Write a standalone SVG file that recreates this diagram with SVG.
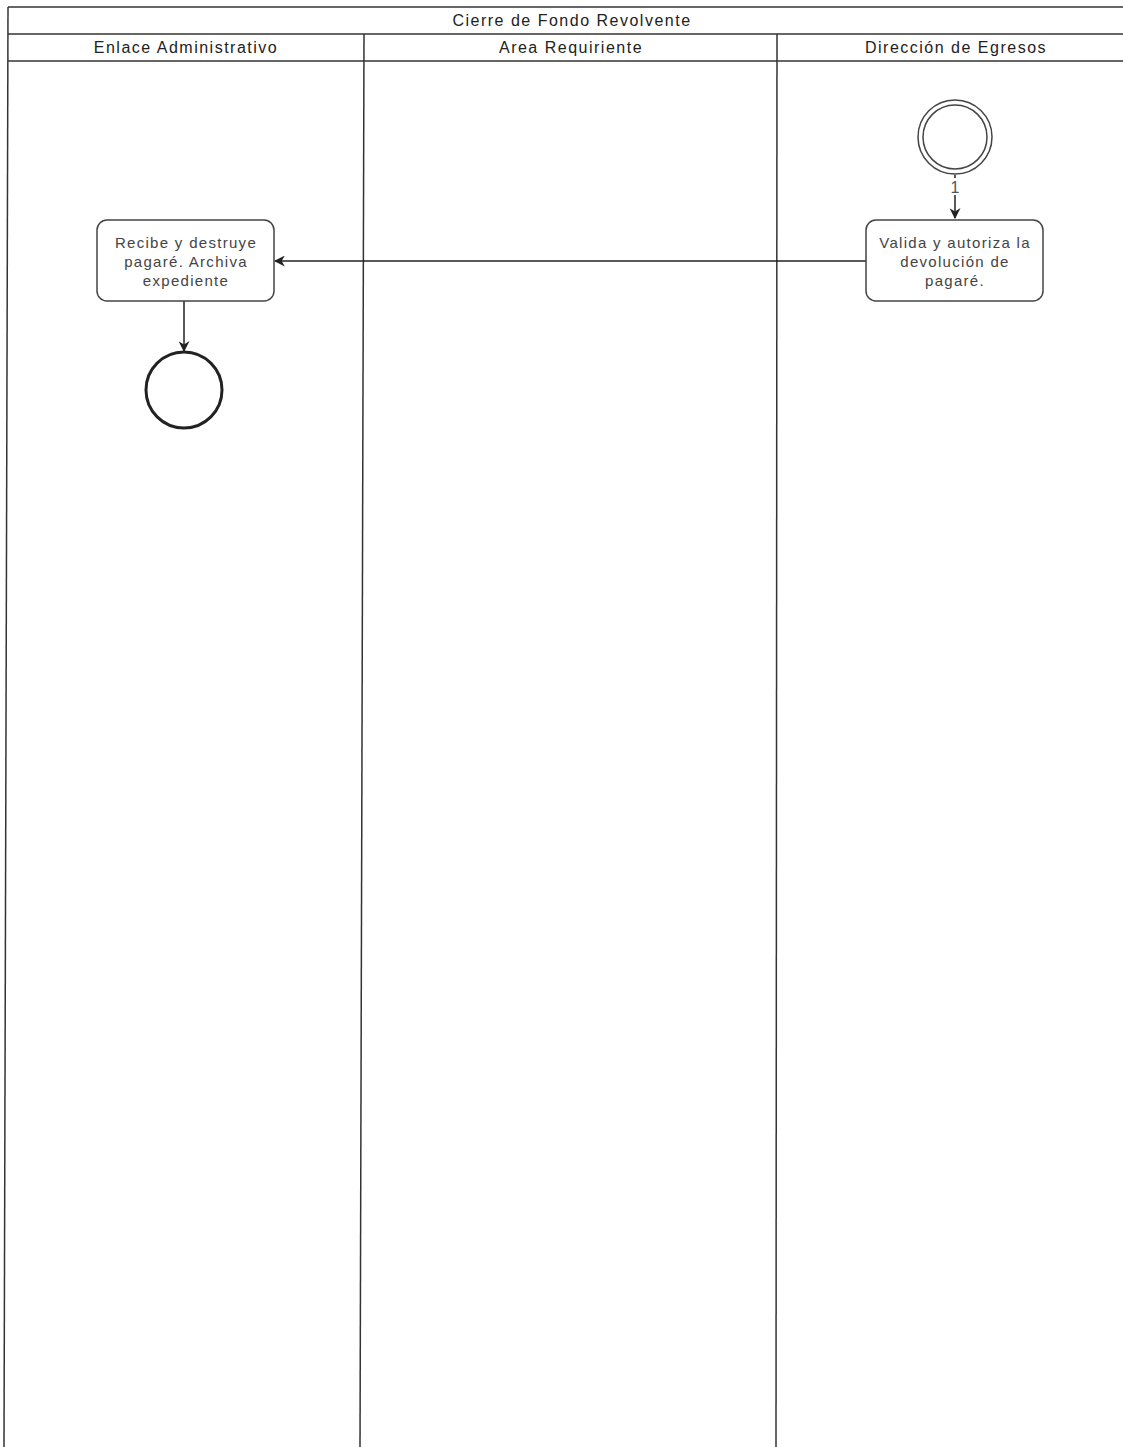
<svg xmlns="http://www.w3.org/2000/svg" width="1123" height="1447" viewBox="0 0 1123 1447">
<style>
.lane{stroke:#333;stroke-width:1.5;fill:none}
.hdr{font-family:"Liberation Sans",Arial,sans-serif;font-size:16px;letter-spacing:1.5px;fill:#222;text-anchor:middle}
.lbl{font-family:"Liberation Sans",Arial,sans-serif;font-size:15px;letter-spacing:1.3px;fill:#444;text-anchor:middle}
.task{fill:#fff;stroke:#444;stroke-width:1.5}
.conn{stroke:#222;stroke-width:1.5;fill:none}
</style>
<defs>
<marker id="arr" viewBox="0 0 10 10" refX="9" refY="5" markerWidth="11" markerHeight="11" orient="auto" markerUnits="userSpaceOnUse">
<path d="M0,0 L10,5 L0,10 L3,5 z" fill="#222"/>
</marker>
</defs>
<rect width="1123" height="1447" fill="#fff"/>
<g id="pool">
<line class="lane" x1="8" y1="7" x2="1123" y2="7"/>
<line class="lane" x1="8" y1="34" x2="1123" y2="34"/>
<line class="lane" x1="8" y1="61" x2="1123" y2="61"/>
<line class="lane" x1="8" y1="7" x2="4" y2="1447"/>
<line class="lane" x1="364" y1="34" x2="360" y2="1447"/>
<line class="lane" x1="777" y1="34" x2="776" y2="1447"/>
<text class="hdr" x="572" y="26">Cierre de Fondo Revolvente</text>
<text class="hdr" x="186" y="53">Enlace Administrativo</text>
<text class="hdr" x="571" y="53">Area Requiriente</text>
<text class="hdr" x="956" y="53">Dirección de Egresos</text>
</g>
<g id="connectors">
<line class="conn" x1="955" y1="175" x2="955" y2="218" marker-end="url(#arr)"/>
<rect x="949" y="178" width="12" height="17" fill="#fff"/>
<text x="955" y="193" style="font-family:'Liberation Sans',Arial,sans-serif;font-size:16px;fill:#555;text-anchor:middle">1</text>
<line class="conn" x1="866" y1="261" x2="275" y2="261" marker-end="url(#arr)"/>
<line class="conn" x1="184" y1="301" x2="184" y2="351" marker-end="url(#arr)"/>
</g>
<g id="start">
<circle cx="955" cy="137" r="37" fill="#fff" stroke="#444" stroke-width="1.5"/>
<circle cx="955" cy="137" r="32" fill="none" stroke="#444" stroke-width="1.5"/>
</g>
<g id="task-valida">
<rect class="task" x="866" y="220" width="177" height="81" rx="10"/>
<text class="lbl" x="955" y="248">Valida y autoriza la</text>
<text class="lbl" x="955" y="267">devolución de</text>
<text class="lbl" x="955" y="286">pagaré.</text>
</g>
<g id="task-recibe">
<rect class="task" x="97" y="220" width="177" height="81" rx="10"/>
<text class="lbl" x="186" y="248">Recibe y destruye</text>
<text class="lbl" x="186" y="267">pagaré. Archiva</text>
<text class="lbl" x="186" y="286">expediente</text>
</g>
<g id="end">
<circle cx="184" cy="390" r="38" fill="#fff" stroke="#222" stroke-width="3"/>
</g>
</svg>
